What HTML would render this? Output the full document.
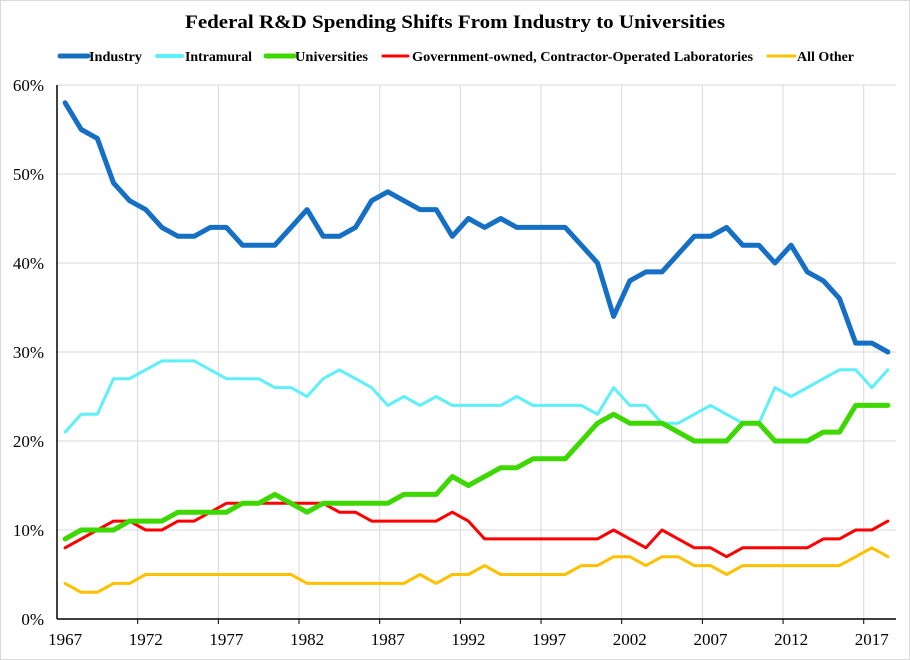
<!DOCTYPE html>
<html><head><meta charset="utf-8"><style>
html,body{margin:0;padding:0;background:#fff;}
svg{display:block;font-family:"Liberation Serif",serif;}
</style></head><body>
<svg id="chart" width="910" height="660" xmlns="http://www.w3.org/2000/svg">
<rect x="0.5" y="0.5" width="909" height="659" fill="#fff" stroke="#d9d9d9"/>
<text x="455" y="28" text-anchor="middle" font-size="19" font-weight="bold" textLength="540" lengthAdjust="spacingAndGlyphs">Federal R&amp;D Spending Shifts From Industry to Universities</text>
<g id="legend"></g>
<g id="grid"></g>
<g id="series"></g>
<g id="axes"></g>
</svg>
<script>
const startYear = 1967;
const industry = [58,55,54,49,47,46,44,43,43,44, 44,42,42,42,44,46,43,43,44,47, 48,47,46,46,43,45,44,45,44,44, 44,44,42,40,34,38,39,39,41,43, 43,44,42,42,40,42,39,38,36,31, 31,30];
const intramural = [21,23,23,27,27,28,29,29,29,28, 27,27,27,26,26,25,27,28,27,26, 24,25,24,25,24,24,24,24,25,24, 24,24,24,23,26,24,24,22,22,23, 24,23,22,22,26,25,26,27,28,28, 26,28];
const universities = [9,10,10,10,11,11,11,12,12,12, 12,13,13,14,13,12,13,13,13,13, 13,14,14,14,16,15,16,17,17,18, 18,18,20,22,23,22,22,22,21,20, 20,20,22,22,20,20,20,21,21,24, 24,24];
const goco = [8,9,10,11,11,10,10,11,11,12, 13,13,13,13,13,13,13,12,12,11, 11,11,11,11,12,11,9,9,9,9, 9,9,9,9,10,9,8,10,9,8, 8,7,8,8,8,8,8,9,9,10, 10,11];
const allOther = [4,3,3,4,4,5,5,5,5,5, 5,5,5,5,5,4,4,4,4,4, 4,4,5,4,5,5,6,5,5,5, 5,5,6,6,7,7,6,7,7,6, 6,5,6,6,6,6,6,6,6,7, 8,7];
const yTicks = [0,10,20,30,40,50,60];
const xTickYears = [1967,1972,1977,1982,1987,1992,1997,2002,2007,2012,2017];
const legendLabels = ["Industry","Intramural","Universities","Government-owned, Contractor-Operated Laboratories","All Other"];

const NS = "http://www.w3.org/2000/svg";
const plotLeft = 57, plotRight = 896, plotTop = 85, plotBottom = 619;
const nPts = industry.length;
const step = (plotRight - plotLeft) / nPts;
function xPos(i){ return plotLeft + step * (i + 0.5); }
function yPos(v){ return plotBottom - (v / 60) * (plotBottom - plotTop); }
function mk(tag, attrs, parent){ const e = document.createElementNS(NS, tag); for (const k in attrs) e.setAttribute(k, attrs[k]); parent.appendChild(e); return e; }

const grid = document.getElementById('grid');
const axes = document.getElementById('axes');
yTicks.forEach(t => {
  const y = yPos(t);
  if (t > 0) {
    const l = mk('line', {x1:plotLeft, x2:plotRight, y1:y, y2:y, stroke:'#d9d9d9', 'stroke-width':1}, grid);
    
    
  }
  const tx = mk('text', {x:44, y:y+6, 'text-anchor':'end', 'font-size':17}, axes);
  tx.textContent = t + '%';
  
  
});
for (let k = 5; k <= nPts; k += 5) {
  const x = plotLeft + step * k;
  const l = mk('line', {x1:x, x2:x, y1:plotTop, y2:plotBottom, stroke:'#d9d9d9', 'stroke-width':1}, grid);
  
  
  const tk = mk('line', {x1:x, x2:x, y1:plotBottom, y2:plotBottom+5, stroke:'#000', 'stroke-width':1}, axes);
  
  
}
const ya = mk('line', {x1:plotLeft, x2:plotLeft, y1:plotTop, y2:plotBottom, stroke:'#000', 'stroke-width':1.5}, axes);


const xa = mk('line', {x1:plotLeft, x2:plotRight, y1:plotBottom, y2:plotBottom, stroke:'#000', 'stroke-width':1.5}, axes);


xTickYears.forEach(yr => {
  const tx = mk('text', {x:xPos(yr - startYear), y:645, 'text-anchor':'middle', 'font-size':17}, axes);
  tx.textContent = yr;
  
  
});

const seriesDefs = [
  {data: intramural, color:'#5ef0f8', w:3, name:'series-intramural'},
  {data: allOther, color:'#ffc000', w:3, name:'series-all-other'},
  {data: goco, color:'#ff0000', w:3, name:'series-goco-labs'},
  {data: universities, color:'#3dd800', w:5, name:'series-universities'},
  {data: industry, color:'#1570c5', w:5, name:'series-industry'}
];
const sg = document.getElementById('series');
seriesDefs.forEach(s => {
  const pts = s.data.map((v,i) => xPos(i).toFixed(1) + ',' + yPos(v).toFixed(1)).join(' ');
  const p = mk('polyline', {points:pts, fill:'none', stroke:s.color, 'stroke-width':s.w, 'stroke-linejoin':'round', 'stroke-linecap':'round'}, sg);
  
  
});

const lg = document.getElementById('legend');
const legendColors = ['#1570c5','#5ef0f8','#3dd800','#ff0000','#ffc000'];
const legendWidths = [5,4,5,3,3];
const legendX = [[60,88,89,53],[157,182,185,67],[266,294,295,73],[383,408,412,341],[768,795,797,57]];
legendLabels.forEach((lab,i) => {
  const g = legendX[i];
  const ln = mk('line', {x1:g[0], x2:g[1], y1:56, y2:56, stroke:legendColors[i], 'stroke-width':legendWidths[i], 'stroke-linecap':'round'}, lg);
  
  
  const tx = mk('text', {x:g[2], y:61, 'font-size':14, 'font-weight':'bold', textLength:g[3], lengthAdjust:'spacingAndGlyphs'}, lg);
  tx.textContent = lab;
  
  
});
</script>
</body></html>
